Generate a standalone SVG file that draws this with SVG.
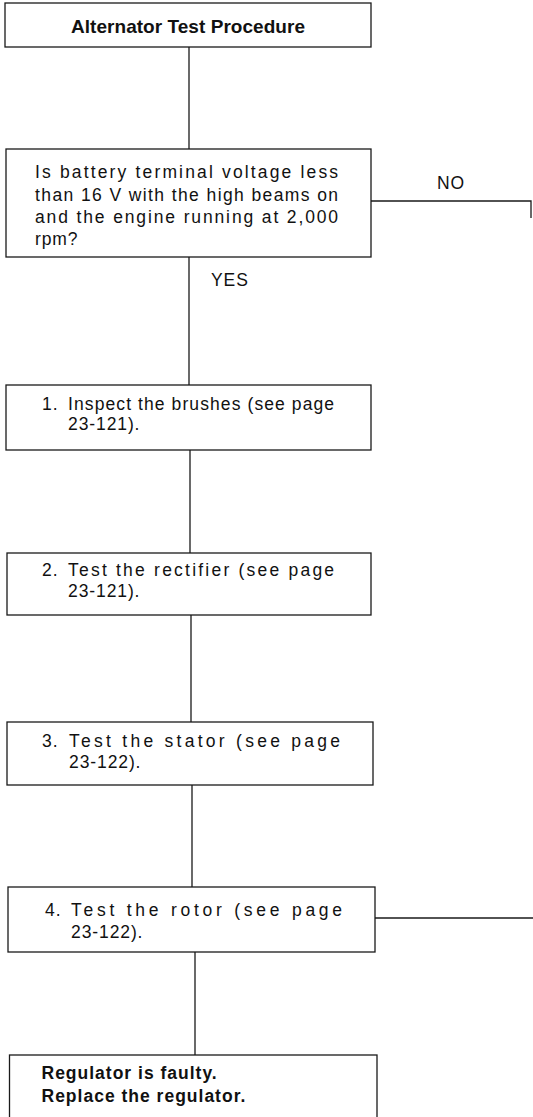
<svg xmlns="http://www.w3.org/2000/svg" width="533" height="1117" viewBox="0 0 533 1117">
<style>
.box{fill:#fff;stroke:#1a1a1a;stroke-width:1.3}
.conn{fill:none;stroke:#1a1a1a;stroke-width:1.3}
text{font-family:"Liberation Sans",Arial,Helvetica,sans-serif;fill:#111;font-size:17.5px;letter-spacing:0.9px}
.b{font-weight:bold;letter-spacing:1px}
.t{font-weight:bold;font-size:19px;letter-spacing:0px}
</style>
<rect width="533" height="1117" fill="#fff"/>
<g id="connectors">
<line class="conn" x1="189" y1="47" x2="189" y2="149"/>
<polyline class="conn" points="371,201 531,201 531,218"/>
<line class="conn" x1="189" y1="257" x2="189" y2="385"/>
<line class="conn" x1="190" y1="450" x2="190" y2="553"/>
<line class="conn" x1="191" y1="615" x2="191" y2="722"/>
<line class="conn" x1="192" y1="785" x2="192" y2="887"/>
<line class="conn" x1="375" y1="918" x2="533" y2="918"/>
<line class="conn" x1="195" y1="952" x2="195" y2="1055"/>
<text x="437" y="189">NO</text>
<text x="211" y="286">YES</text>
</g>
<g id="n-title">
<rect class="box" x="5" y="3" width="366" height="44"/>
<text class="t" x="71" y="33" textLength="234" lengthAdjust="spacing">Alternator Test Procedure</text>
</g>
<g id="n-question">
<rect class="box" x="6" y="149" width="365" height="108"/>
<text x="35" y="178" textLength="304" lengthAdjust="spacing">Is battery terminal voltage less</text>
<text x="35" y="201" textLength="304" lengthAdjust="spacing">than 16 V with the high beams on</text>
<text x="35" y="223" textLength="304" lengthAdjust="spacing">and the engine running at 2,000</text>
<text x="35" y="245">rpm?</text>
</g>
<g id="n-step1">
<rect class="box" x="6" y="385" width="365" height="65"/>
<text x="42" y="410">1.</text>
<text x="68" y="410" textLength="267" lengthAdjust="spacing">Inspect the brushes (see page</text>
<text x="68" y="430">23-121).</text>
</g>
<g id="n-step2">
<rect class="box" x="7" y="553" width="364" height="62"/>
<text x="42" y="576">2.</text>
<text x="68" y="576" textLength="267" lengthAdjust="spacing">Test the rectifier (see page</text>
<text x="68" y="597">23-121).</text>
</g>
<g id="n-step3">
<rect class="box" x="7" y="722" width="366" height="63"/>
<text x="42" y="747">3.</text>
<text x="69" y="747" textLength="272" lengthAdjust="spacing">Test the stator (see page</text>
<text x="69" y="768">23-122).</text>
</g>
<g id="n-step4">
<rect class="box" x="8" y="887" width="367" height="65"/>
<text x="45" y="916">4.</text>
<text x="71" y="916" textLength="272" lengthAdjust="spacing">Test the rotor (see page</text>
<text x="71" y="938">23-122).</text>
</g>
<g id="n-result">
<rect class="box" x="9.5" y="1055" width="367.5" height="80"/>
<text class="b" x="41.5" y="1079">Regulator is faulty.</text>
<text class="b" x="41.5" y="1102">Replace the regulator.</text>
</g>
</svg>
